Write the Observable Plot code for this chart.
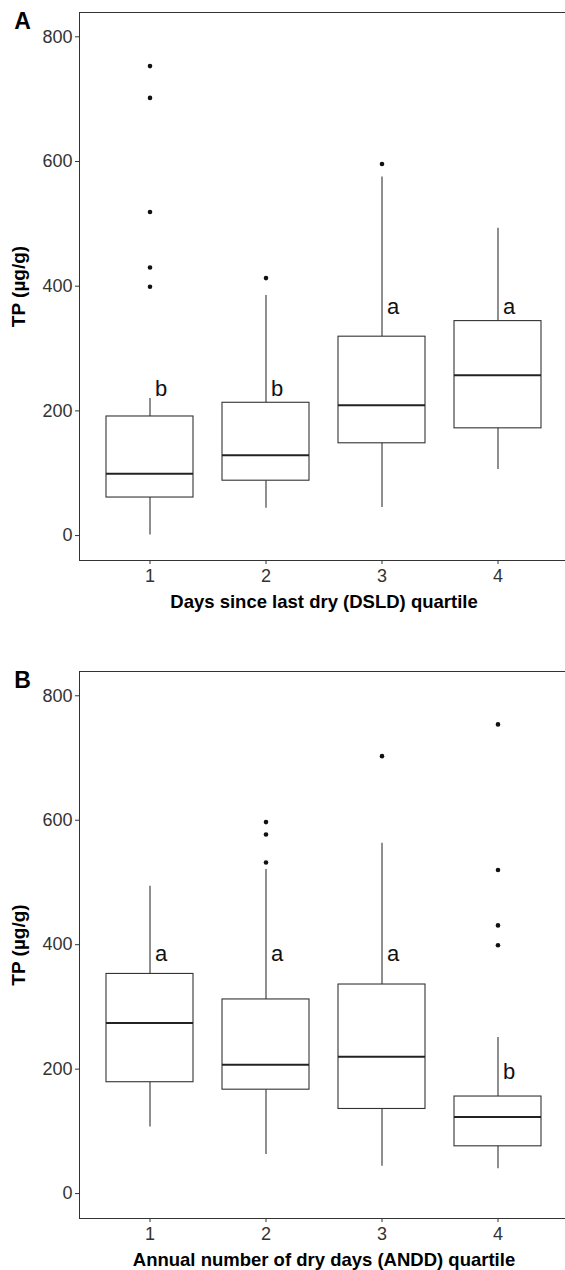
<!DOCTYPE html>
<html>
<head>
<meta charset="utf-8">
<script src="https://cdn.jsdelivr.net/npm/d3@7"></script>
<script src="https://cdn.jsdelivr.net/npm/@observablehq/plot@0.6"></script>
<style>
  html, body { margin: 0; padding: 0; background: #fff; }
  #chart svg { display: block; }
</style>
</head>
<body>
<div id="chart"></div>
<script>
// ---- data ----
const categories = ["1", "2", "3", "4"];
const yTicks = [0, 200, 400, 600, 800];
const yTitle = "TP (µg/g)";

// Panel A: Days since last dry (DSLD) quartile
const dsldTitle = "Days since last dry (DSLD) quartile";
const dsldLower  = [1, 44, 45, 106];
const dsldQ1     = [61, 88, 148, 172];
const dsldMedian = [99, 129, 209, 257];
const dsldQ3     = [191, 213, 319, 344];
const dsldUpper  = [220, 385, 575, 493];
const dsldOutliers = [[753, 702, 519, 430, 399], [413], [596], []];
const dsldLetters = ["b", "b", "a", "a"];
const dsldLetterY = [235, 235, 366, 366];

// Panel B: Annual number of dry days (ANDD) quartile
const anddTitle = "Annual number of dry days (ANDD) quartile";
const anddLower  = [107, 63, 44, 40];
const anddQ1     = [179, 167, 136, 76];
const anddMedian = [274, 207, 220, 123];
const anddQ3     = [353, 312, 336, 156];
const anddUpper  = [494, 521, 563, 251];
const anddOutliers = [[], [597, 577, 532], [703], [754, 520, 431, 399]];
const anddLetters = ["a", "a", "a", "b"];
const anddLetterY = [385, 385, 385, 196];

const FONT = "'Liberation Sans', Arial, Helvetica, sans-serif";
const LINE = "#333333";

function panel({tag, xTitle, lower, q1, median, q3, upper, outliers, letters, letterY, height, marginBottom}) {
  const rows = categories.map((c, i) => ({
    cat: c, lower: lower[i], q1: q1[i], median: median[i], q3: q3[i], upper: upper[i],
    letter: letters[i], ly: letterY[i]
  }));
  const pts = categories.flatMap((c, i) => outliers[i].map(v => ({cat: c, v})));
  return Plot.plot({
    width: 565,
    height,
    marginLeft: 79,
    marginRight: -3,
    marginTop: 12,
    marginBottom,
    style: {fontFamily: FONT, background: "#fff", overflow: "visible"},
    x: {type: "band", domain: categories, paddingInner: 0.25, paddingOuter: 0.225, axis: null},
    y: {domain: [-40, 839], axis: null},
    marks: [
      Plot.frame({anchor: "top", stroke: LINE, strokeWidth: 1}),
      Plot.frame({anchor: "left", stroke: LINE, strokeWidth: 1}),
      Plot.frame({anchor: "bottom", stroke: LINE, strokeWidth: 1}),
      Plot.axisY({ticks: yTicks, tickSize: 4, tickPadding: 3, fontSize: 18, color: "#333", label: null, stroke: LINE}),
      Plot.axisX({tickSize: 4, tickPadding: 5, fontSize: 18, color: "#333", label: null, stroke: LINE}),
      Plot.ruleX(rows, {x: "cat", y1: "q3", y2: "upper", stroke: LINE, strokeWidth: 1.1}),
      Plot.ruleX(rows, {x: "cat", y1: "lower", y2: "q1", stroke: LINE, strokeWidth: 1.1}),
      Plot.barY(rows, {x: "cat", y1: "q1", y2: "q3", fill: "white", stroke: LINE, strokeWidth: 1.1}),
      Plot.tickY(rows, {x: "cat", y: "median", stroke: "#222", strokeWidth: 2}),
      Plot.dot(pts, {x: "cat", y: "v", r: 2.3, fill: "#111", stroke: "none"}),
      Plot.text(rows, {x: "cat", y: "ly", text: "letter", dx: 11, fontSize: 22, fill: "#111"}),
      Plot.text([xTitle], {frameAnchor: "bottom", dy: 42, textAnchor: "middle", lineAnchor: "middle", fontSize: 18.5, fontWeight: "bold", fill: "#000"}),
      Plot.text([yTitle], {frameAnchor: "left", dx: -61, rotate: -90, textAnchor: "middle", lineAnchor: "middle", fontSize: 19, fontWeight: "bold", fill: "#000"}),
      Plot.text([tag], {frameAnchor: "top-left", dx: -57, dy: 9, textAnchor: "middle", lineAnchor: "middle", fontSize: 23, fontWeight: "bold", fill: "#000"})
    ]
  });
}

const chart = document.getElementById("chart");
chart.appendChild(panel({
  tag: "A", xTitle: dsldTitle, lower: dsldLower, q1: dsldQ1, median: dsldMedian, q3: dsldQ3,
  upper: dsldUpper, outliers: dsldOutliers, letters: dsldLetters, letterY: dsldLetterY,
  height: 659, marginBottom: 99
}));
chart.appendChild(panel({
  tag: "B", xTitle: anddTitle, lower: anddLower, q1: anddQ1, median: anddMedian, q3: anddQ3,
  upper: anddUpper, outliers: anddOutliers, letters: anddLetters, letterY: anddLetterY,
  height: 611, marginBottom: 52
}));
</script>
</body>
</html>
